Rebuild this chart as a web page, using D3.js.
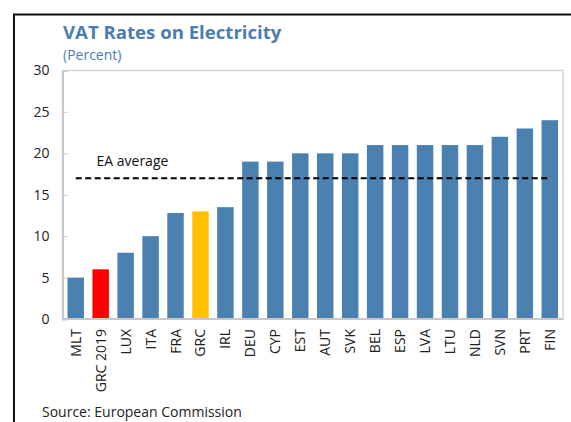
<!DOCTYPE html>
<html>
<head>
<meta charset="utf-8">
<script src="https://cdn.jsdelivr.net/npm/d3@7"></script>
<style>
  body { margin: 0; background: #fff; }
  text { font-family: "Open Sans", "Noto Sans", sans-serif; }
</style>
</head>
<body>
<div id="chart"></div>
<script>
// data
var countries = ["MLT", "GRC 2019", "LUX", "ITA", "FRA", "GRC", "IRL", "DEU", "CYP", "EST",
                 "AUT", "SVK", "BEL", "ESP", "LVA", "LTU", "NLD", "SVN", "PRT", "FIN"];
var rates = [5, 6, 8, 10, 12.8, 13, 13.5, 19, 19, 20, 20, 20, 21, 21, 21, 21, 21, 22, 23, 24];
var eaAverage = 17;
var yTicks = [0, 5, 10, 15, 20, 25, 30];

var width = 571, height = 422;
var margin = { top: 70.5, right: 8, bottom: 103, left: 62.5 };
var chartWidth = width - margin.left - margin.right;
var chartHeight = height - margin.top - margin.bottom;

var svg = d3.select("#chart")
    .append("svg")
    .attr("width", width)
    .attr("height", height);

// outer frame (only top and left edges show)
svg.append("path")
    .attr("d", "M14,422 L14,14.5 L571,14.5")
    .attr("fill", "none")
    .attr("stroke", "#111")
    .attr("stroke-width", 2);

svg.append("text")
    .attr("x", 63).attr("y", 39)
    .attr("font-size", 18.6)
    .attr("font-weight", "bold")
    .attr("fill", "#4a7eb0")
    .text("VAT Rates on Electricity");

svg.append("text")
    .attr("x", 63).attr("y", 60)
    .attr("font-size", 14)
    .attr("fill", "#4a7eb0")
    .text("(Percent)");

var chartGroup = svg.append("g")
    .attr("transform", `translate(${margin.left}, ${margin.top})`);

var x = d3.scaleBand()
    .domain(countries)
    .range([0, chartWidth])
    .paddingInner(0.34)
    .paddingOuter(0.2);

var y = d3.scaleLinear()
    .domain([0, 30])
    .range([chartHeight, 0]);

// plot border
chartGroup.append("rect")
    .attr("width", chartWidth)
    .attr("height", chartHeight)
    .attr("fill", "none")
    .attr("stroke", "#d4d4d4")
    .attr("stroke-width", 1.5);

// y axis, ticks inside
var yAxis = chartGroup.append("g")
    .call(d3.axisLeft(y).tickValues(yTicks).tickSize(-5).tickPadding(13));
yAxis.select(".domain").attr("stroke", "#c8c8c8").attr("stroke-width", 2);
yAxis.selectAll(".tick line").attr("stroke", "#d0d0d0");
yAxis.selectAll(".tick text")
    .attr("font-size", 14)
    .attr("fill", "#222")
    .style("font-family", "'Open Sans', sans-serif");

chartGroup.selectAll(".bar")
    .data(rates)
    .enter()
    .append("rect")
    .attr("class", "bar")
    .attr("x", function(d, i) { return x(countries[i]); })
    .attr("y", function(d) { return y(d); })
    .attr("width", x.bandwidth())
    .attr("height", function(d) { return chartHeight - y(d); })
    .attr("fill", function(d, i) {
      if (countries[i] == "GRC 2019") {
        return "#ff0000";
      } else if (countries[i] == "GRC") {
        return "#ffc000";
      } else {
        return "#4a81b0";
      }
    });

// x axis line on top of the bars
chartGroup.append("line")
    .attr("x1", 0).attr("x2", chartWidth)
    .attr("y1", chartHeight).attr("y2", chartHeight)
    .attr("stroke", "#c8c8c8")
    .attr("stroke-width", 2);

// rotated category labels
chartGroup.selectAll(".xlabel")
    .data(countries)
    .enter()
    .append("text")
    .attr("class", "xlabel")
    .attr("transform", function(d) {
      return "translate(" + (x(d) + x.bandwidth() / 2 + 5) + "," + (chartHeight + 10) + ") rotate(-90)";
    })
    .attr("text-anchor", "end")
    .attr("font-size", 14)
    .attr("fill", "#222")
    .text(function(d) { return d; });

// EA average
chartGroup.append("line")
    .attr("x1", x(countries[0]) + x.bandwidth() / 2)
    .attr("x2", x(countries[countries.length - 1]) + x.bandwidth() / 2)
    .attr("y1", y(eaAverage))
    .attr("y2", y(eaAverage))
    .attr("stroke", "#000")
    .attr("stroke-width", 2)
    .attr("stroke-dasharray", "6,3.5");

chartGroup.append("text")
    .attr("x", 34)
    .attr("y", y(eaAverage) - 12)
    .attr("font-size", 14)
    .attr("fill", "#111")
    .text("EA average");

svg.append("text")
    .attr("x", 42).attr("y", 417)
    .attr("font-size", 14)
    .attr("fill", "#222")
    .text("Source: European Commission");
</script>
</body>
</html>
